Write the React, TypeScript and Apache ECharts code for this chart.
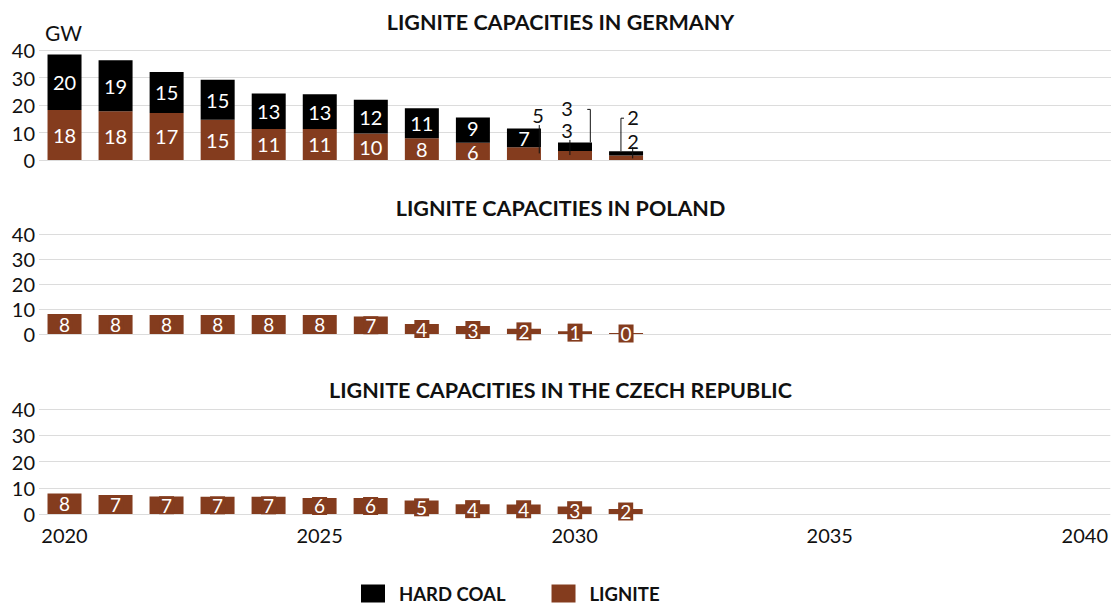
import React, { useEffect, useRef } from "react";
import * as echarts from "echarts";

const axisYears = [
  "2020", "2021", "2022", "2023", "2024", "2025", "2026", "2027", "2028", "2029", "2030",
  "2031", "2032", "2033", "2034", "2035", "2036", "2037", "2038", "2039", "2040",
];
const yTicks = [0, 10, 20, 30, 40];

const deLignite = [18.2, 17.7, 17.1, 14.6, 11.3, 11.3, 9.6, 7.9, 6.3, 4.6, 3.3, 1.6];
const deHardCoal = [20.2, 18.6, 14.9, 14.6, 12.9, 12.6, 12.3, 10.9, 9.2, 6.9, 3.1, 1.6];
const plLignite = [8.0, 7.6, 7.6, 7.6, 7.6, 7.6, 7.0, 4.0, 3.2, 2.1, 1.1, 0.4];
const czLignite = [7.8, 7.2, 6.7, 6.6, 6.6, 6.1, 6.1, 5.1, 3.7, 3.6, 2.9, 1.9];

const titles = [
  "LIGNITE CAPACITIES IN GERMANY",
  "LIGNITE CAPACITIES IN POLAND",
  "LIGNITE CAPACITIES IN THE CZECH REPUBLIC",
];

// Label offsets (px) for German bars: [yearIndex, dx, dy, isCallout]
const deLigniteOffsets = [
  [8, 0, 1, 0],
  [9, 14, -39, 1],
  [10, -8, -25, 1],
  [11, 7, -17, 1],
];
const deHardCoalOffsets = [
  [8, 0, -2, 0],
  [10, -8, -39, 1],
  [11, 7, -36, 1],
];
// Leader lines in data units (year, GW)
const calloutLines = [
  [[2029.3, 2.4], [2029.3, 12.7]],
  [[2030.24, 18.4], [2030.3, 18.4], [2030.3, 6.4]],
  [[2029.9, 1.8], [2029.9, 7.3]],
  [[2030.96, 15.2], [2030.9, 15.2], [2030.9, 3.2]],
  [[2031.13, 0.6], [2031.13, 4.6]],
];

const BLACK = "#000000";
const BROWN = "#843C1E";
const FONT = "Lato";

export default function App() {
  const ref = useRef<HTMLDivElement>(null);

  useEffect(() => {
    if (!ref.current) return;
    const chart = echarts.init(ref.current, null, { renderer: "svg" });

    const grids = [
      { left: 39, right: 0, top: 50, height: 110 },
      { left: 39, right: 0, top: 234, height: 100 },
      { left: 39, right: 0, top: 409, height: 105 },
    ];
    const titleY = [22, 208, 390];

    const xAxes: any[] = grids.map((_, i) => ({
      type: "category",
      gridIndex: i,
      data: axisYears,
      boundaryGap: true,
      axisLine: { show: false },
      axisTick: { show: false },
      splitLine: { show: false },
      axisLabel: {
        show: i === 2,
        interval: (_idx: number, val: string) => Number(val) % 5 === 0,
        fontFamily: FONT,
        fontSize: 20,
        color: "#111",
        margin: 11,
      },
    }));
    // hidden value axis over the German panel for leader lines
    xAxes.push({
      type: "value",
      gridIndex: 0,
      min: 2019.5,
      max: 2040.5,
      show: false,
    });

    const yAxes = grids.map((_, i) => ({
      type: "value",
      gridIndex: i,
      min: yTicks[0],
      max: yTicks[yTicks.length - 1],
      interval: 10,
      name: i === 0 ? "GW" : "",
      nameLocation: "end",
      nameGap: 7,
      nameTextStyle: {
        fontFamily: FONT,
        fontSize: 21,
        color: "#111",
        align: "left",
        padding: [0, 0, 0, 6],
      },
      axisLine: { show: false },
      axisTick: { show: false },
      splitLine: { lineStyle: { color: "#dcdcdc", width: 1 } },
      axisLabel: { fontFamily: FONT, fontSize: 20, color: "#111", margin: 4 },
    }));

    const fmt = (p: any) => String(Math.round(Number(p.value)));

    const withOffsets = (vals: number[], offsets: number[][]) =>
      vals.map((v, idx) => {
        const c = offsets.find((cc) => cc[0] === idx);
        const item: any = { value: v };
        if (c) {
          item.label = c[3]
            ? { offset: [c[1], c[2]], color: "#111", fontSize: 20, lineHeight: 16 }
            : { offset: [c[1], c[2]] };
        }
        return item;
      });

    const deLabel = {
      show: true,
      position: "inside",
      color: "#fff",
      fontFamily: FONT,
      fontSize: 20,
      lineHeight: 18,
      formatter: fmt,
    };

    const smallLabel = {
      show: true,
      position: "inside",
      color: "#fff",
      fontFamily: FONT,
      fontSize: 19,
      lineHeight: 18,
      backgroundColor: BROWN,
      padding: [0, 2],
      formatter: fmt,
    };

    const option: any = {
      animation: false,
      backgroundColor: "#fff",
      grid: grids,
      xAxis: xAxes,
      yAxis: yAxes,
      legend: {
        data: ["HARD COAL", "LIGNITE"],
        left: 361,
        top: 584,
        padding: 0,
        itemWidth: 24,
        itemHeight: 18,
        itemGap: 46,
        icon: "rect",
        textStyle: {
          fontFamily: FONT,
          fontWeight: "bold",
          fontSize: 18.5,
          lineHeight: 16,
          color: "#111",
          padding: [0, 0, 0, 9],
        },
      },
      graphic: titles.map((t, i) => ({
        type: "text",
        x: 560.5,
        y: titleY[i],
        style: {
          text: t,
          fontFamily: FONT,
          fontWeight: "bold",
          fontSize: 21.5,
          fill: "#111",
          textAlign: "center",
          textVerticalAlign: "middle",
        },
      })),
      series: [
        {
          name: "LIGNITE",
          type: "bar",
          stack: "de",
          xAxisIndex: 0,
          yAxisIndex: 0,
          barWidth: 34,
          itemStyle: { color: BROWN },
          label: deLabel,
          data: withOffsets(deLignite, deLigniteOffsets),
        },
        {
          name: "HARD COAL",
          type: "bar",
          stack: "de",
          xAxisIndex: 0,
          yAxisIndex: 0,
          barWidth: 34,
          itemStyle: { color: BLACK },
          label: deLabel,
          data: withOffsets(deHardCoal, deHardCoalOffsets),
        },
        {
          name: "callouts",
          type: "lines",
          coordinateSystem: "cartesian2d",
          xAxisIndex: 3,
          yAxisIndex: 0,
          polyline: true,
          silent: true,
          z: 10,
          lineStyle: { color: "#111", width: 1, opacity: 1 },
          data: calloutLines.map((c) => ({ coords: c })),
        },
        {
          name: "LIGNITE",
          type: "bar",
          xAxisIndex: 1,
          yAxisIndex: 1,
          barWidth: 34,
          itemStyle: { color: BROWN },
          label: smallLabel,
          data: plLignite,
        },
        {
          name: "LIGNITE",
          type: "bar",
          xAxisIndex: 2,
          yAxisIndex: 2,
          barWidth: 34,
          itemStyle: { color: BROWN },
          label: smallLabel,
          data: czLignite,
        },
      ],
    };

    chart.setOption(option);
    return () => chart.dispose();
  }, []);

  return (
    <div
      ref={ref}
      style={{ position: "fixed", left: 0, top: 0, width: 1111, height: 604, background: "#fff" }}
    />
  );
}
